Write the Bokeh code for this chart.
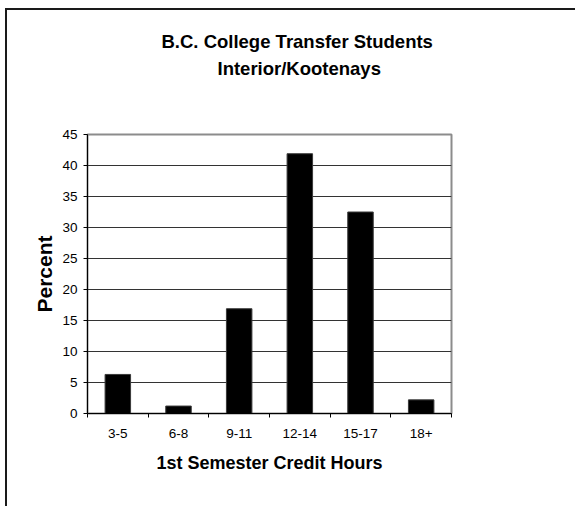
from bokeh.plotting import figure
from bokeh.models import Range1d, FixedTicker, Title
from bokeh.embed import file_html
from bokeh.resources import INLINE

categories = ["3-5", "6-8", "9-11", "12-14", "15-17", "18+"]
percent = [6.3, 1.2, 16.9, 41.9, 32.5, 2.2]
y_ticks = [0, 5, 10, 15, 20, 25, 30, 35, 40, 45]
title_lines = ["B.C. College Transfer Students", "Interior/Kootenays"]
x_title = "1st Semester Credit Hours"
y_title = "Percent"

FONT = "Liberation Sans"
n = len(categories)
xs = [i + 0.5 for i in range(n)]
bounds = list(range(n + 1))

frame_h = 279
frame_w = 364
p = figure(
    width=568, height=496,
    frame_width=frame_w, frame_height=frame_h,
    min_border_left=80, min_border_right=124,
    min_border_top=124, min_border_bottom=93,
    x_range=Range1d(0, n), y_range=Range1d(0, 45),
    output_backend="svg", toolbar_location=None, tools="",
)
p.margin = (8, 0, 0, 5)
p.styles = {"border-left": "2px solid #1a1a1a", "border-top": "2px solid #1a1a1a"}
p.background_fill_color = "white"
p.border_fill_color = "white"
p.outline_line_color = "#8c8c8c"
p.outline_line_width = 2

p.vbar(x=xs, top=percent, width=0.42, fill_color="black", line_color="#3a3a3a", line_width=1)

# x axis
xa = p.xaxis[0]
xa.ticker = FixedTicker(ticks=xs, minor_ticks=bounds)
xa.major_label_overrides = {x: c for x, c in zip(xs, categories)}
xa.major_tick_line_color = None
xa.major_tick_out = 0
xa.major_tick_in = 0
xa.minor_tick_out = 4
xa.minor_tick_in = 0
xa.minor_tick_line_color = "black"
xa.axis_line_color = "black"
xa.major_label_standoff = 11
xa.major_label_text_font = FONT
xa.major_label_text_font_size = "13.5px"
xa.major_label_text_color = "black"
xa.axis_label = x_title
xa.axis_label_text_font = FONT
xa.axis_label_text_font_size = "18px"
xa.axis_label_text_font_style = "bold"
xa.axis_label_text_color = "black"
xa.axis_label_standoff = 12

# y axis
ya = p.yaxis[0]
ya.ticker = FixedTicker(ticks=y_ticks)
ya.major_tick_out = 4
ya.major_tick_in = 0
ya.minor_tick_line_color = None
ya.axis_line_color = "black"
ya.major_label_standoff = 6
ya.major_label_text_font = FONT
ya.major_label_text_font_size = "13.5px"
ya.major_label_text_color = "black"
ya.axis_label = y_title
ya.axis_label_text_font = FONT
ya.axis_label_text_font_size = "21px"
ya.axis_label_text_font_style = "bold"
ya.axis_label_text_color = "black"
ya.axis_label_standoff = 3

p.xgrid.grid_line_color = None
p.ygrid.grid_line_color = "#333333"
p.ygrid.grid_line_width = 1

# titles: spacer nearest the frame, then second line, then first line
title_style = dict(text_font=FONT, text_font_size="18.5px", text_font_style="bold",
                   text_color="black")
p.add_layout(Title(text=" ", align="left", standoff=30, **title_style), "above")
p.add_layout(Title(text=title_lines[1], align="left", offset=130, standoff=6, **title_style), "above")
p.add_layout(Title(text=title_lines[0], align="left", offset=74, standoff=2, **title_style), "above")

open("out.html", "w").write(file_html(p, INLINE))
